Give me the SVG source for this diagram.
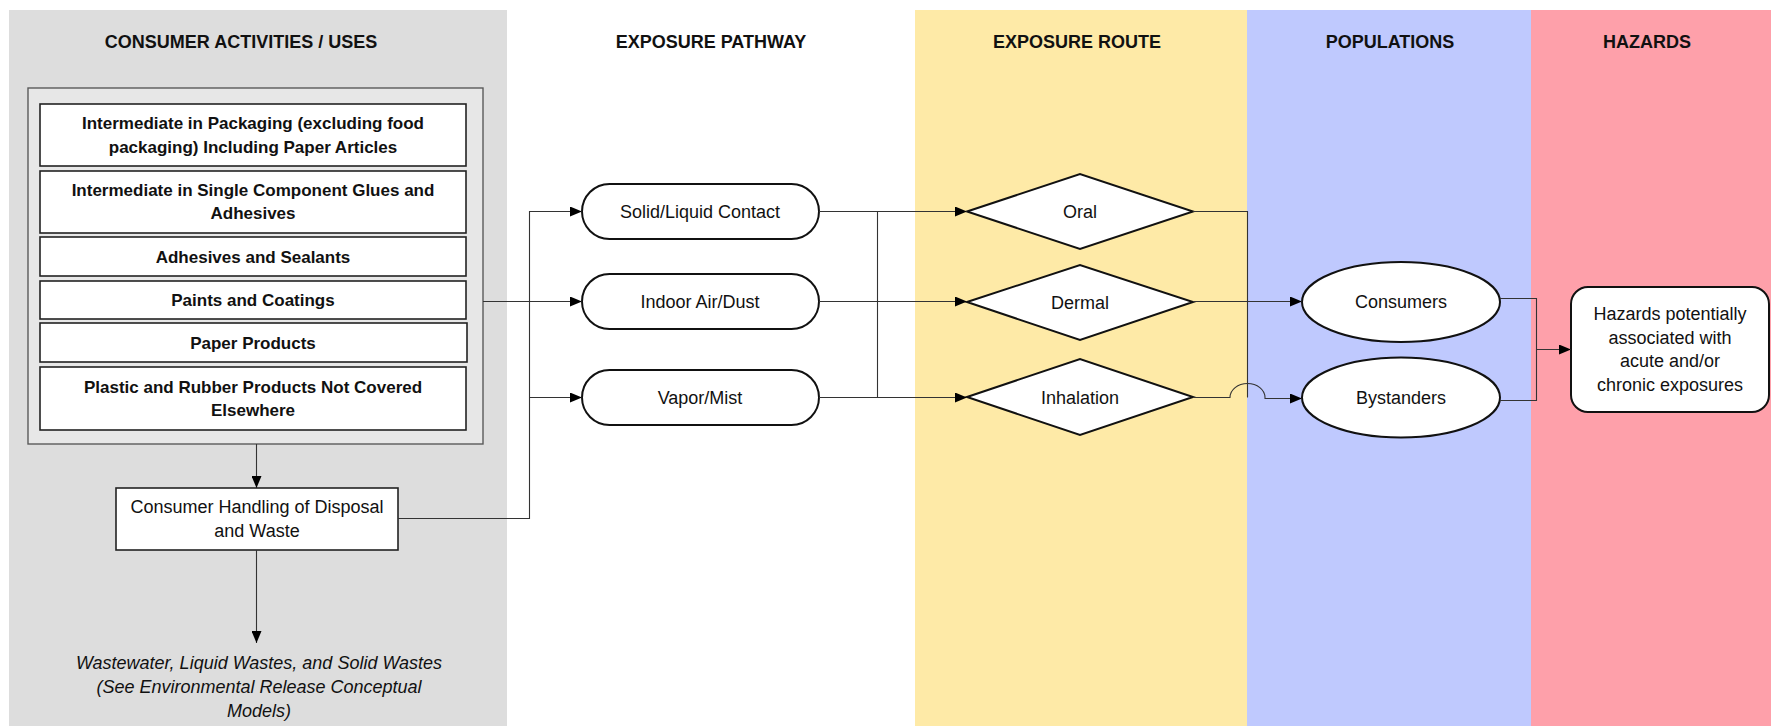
<svg xmlns="http://www.w3.org/2000/svg" width="1771" height="726" viewBox="0 0 1771 726">
  <style>
    text { font-family: "Liberation Sans", Arial, sans-serif; fill: #111; text-anchor: middle; }
    .title { font-size: 18px; font-weight: bold; }
    .use { font-size: 17px; font-weight: bold; }
    .lbl { font-size: 18px; }
    .note { font-size: 18px; font-style: italic; }
    .box { fill: #fff; stroke: #222; stroke-width: 1.6; }
    .shape { fill: #fff; stroke: #111; stroke-width: 2; }
    .conn { fill: none; stroke: #333; stroke-width: 1.1; }
  </style>
  <defs>
    <marker id="arrow" markerUnits="userSpaceOnUse" markerWidth="12" markerHeight="10" refX="12" refY="5" orient="auto">
      <path d="M0,0 L12,5 L0,10 Z" fill="#000"/>
    </marker>
  </defs>

  <!-- column bands -->
  <rect width="1771" height="726" fill="#fff"/>
  <rect x="9" y="10" width="498" height="716" fill="#dddddd"/>
  <rect x="915" y="10" width="332" height="716" fill="#feeaa7"/>
  <rect x="1247" y="10" width="284" height="716" fill="#bfc9fe"/>
  <rect x="1531" y="10" width="240" height="716" fill="#fea0aa"/>

  <!-- column headings -->
  <g id="headings">
    <text class="title" x="241" y="48">CONSUMER ACTIVITIES / USES</text>
    <text class="title" x="711" y="48">EXPOSURE PATHWAY</text>
    <text class="title" x="1077" y="48">EXPOSURE ROUTE</text>
    <text class="title" x="1390" y="48">POPULATIONS</text>
    <text class="title" x="1647" y="48">HAZARDS</text>
  </g>

  <!-- consumer uses -->
  <g id="consumer-uses">
    <rect x="28" y="88" width="455" height="356" fill="#e7e7e7" stroke="#5a5a5a" stroke-width="1.4"/>
    <g id="use-packaging">
      <rect class="box" x="40" y="104" width="426" height="62"/>
      <text class="use" x="253" y="129">Intermediate in Packaging (excluding food</text>
      <text class="use" x="253" y="153">packaging) Including Paper Articles</text>
    </g>
    <g id="use-glues">
      <rect class="box" x="40" y="171" width="426" height="62"/>
      <text class="use" x="253" y="196">Intermediate in Single Component Glues and</text>
      <text class="use" x="253" y="219">Adhesives</text>
    </g>
    <g id="use-adhesives">
      <rect class="box" x="40" y="237" width="426" height="39"/>
      <text class="use" x="253" y="263">Adhesives and Sealants</text>
    </g>
    <g id="use-paints">
      <rect class="box" x="40" y="281" width="426" height="38"/>
      <text class="use" x="253" y="306">Paints and Coatings</text>
    </g>
    <g id="use-paper">
      <rect class="box" x="40" y="323" width="427" height="39"/>
      <text class="use" x="253" y="349">Paper Products</text>
    </g>
    <g id="use-plastic">
      <rect class="box" x="40" y="367" width="426" height="63"/>
      <text class="use" x="253" y="393">Plastic and Rubber Products Not Covered</text>
      <text class="use" x="253" y="416">Elsewhere</text>
    </g>
  </g>

  <g id="disposal">
    <rect class="box" x="116" y="488" width="282" height="62"/>
    <text class="lbl" x="257" y="513">Consumer Handling of Disposal</text>
    <text class="lbl" x="257" y="537">and Waste</text>
  </g>

  <g id="wastes">
    <text class="note" x="259" y="669">Wastewater, Liquid Wastes, and Solid Wastes</text>
    <text class="note" x="259" y="693">(See Environmental Release Conceptual</text>
    <text class="note" x="259" y="717">Models)</text>
  </g>

  <!-- exposure pathways -->
  <g id="pathway-contact">
    <rect class="shape" x="582" y="184" width="237" height="55" rx="27.5" stroke-width="1.6"/>
    <text class="lbl" x="700" y="218">Solid/Liquid Contact</text>
  </g>
  <g id="pathway-air">
    <rect class="shape" x="582" y="274" width="237" height="55" rx="27.5" stroke-width="1.6"/>
    <text class="lbl" x="700" y="308">Indoor Air/Dust</text>
  </g>
  <g id="pathway-vapor">
    <rect class="shape" x="582" y="370" width="237" height="55" rx="27.5" stroke-width="1.6"/>
    <text class="lbl" x="700" y="404">Vapor/Mist</text>
  </g>

  <!-- exposure routes -->
  <g id="route-oral">
    <polygon class="shape" points="967,211.5 1080,174 1193,211.5 1080,249"/>
    <text class="lbl" x="1080" y="218">Oral</text>
  </g>
  <g id="route-dermal">
    <polygon class="shape" points="967,302 1080,265 1193,302 1080,340"/>
    <text class="lbl" x="1080" y="309">Dermal</text>
  </g>
  <g id="route-inhalation">
    <polygon class="shape" points="967,397 1080,359 1193,397 1080,435"/>
    <text class="lbl" x="1080" y="404">Inhalation</text>
  </g>

  <!-- populations -->
  <g id="pop-consumers">
    <ellipse class="shape" cx="1401" cy="302" rx="99" ry="40"/>
    <text class="lbl" x="1401" y="308">Consumers</text>
  </g>
  <g id="pop-bystanders">
    <ellipse class="shape" cx="1401" cy="397.5" rx="99" ry="40"/>
    <text class="lbl" x="1401" y="404">Bystanders</text>
  </g>

  <!-- hazards -->
  <g id="hazard">
    <rect class="shape" x="1571" y="287" width="198" height="125" rx="17"/>
    <text class="lbl" x="1670" y="320">Hazards potentially</text>
    <text class="lbl" x="1670" y="344">associated with</text>
    <text class="lbl" x="1670" y="367">acute and/or</text>
    <text class="lbl" x="1670" y="391">chronic exposures</text>
  </g>

  <!-- connectors -->
  <g id="connectors">
    <path class="conn" d="M256.5,444 V488" marker-end="url(#arrow)"/>
    <path class="conn" d="M256.5,550 V643" marker-end="url(#arrow)"/>
    <path class="conn" d="M483,301.5 H582" marker-end="url(#arrow)"/>
    <path class="conn" d="M398,518.5 H529.5 V211.5 H582" marker-end="url(#arrow)"/>
    <path class="conn" d="M529.5,397.5 H582" marker-end="url(#arrow)"/>

    <path class="conn" d="M819,211.5 H967" marker-end="url(#arrow)"/>
    <path class="conn" d="M819,301.5 H967" marker-end="url(#arrow)"/>
    <path class="conn" d="M819,397.5 H967" marker-end="url(#arrow)"/>
    <path class="conn" d="M877.5,211.5 V397.5"/>

    <path class="conn" d="M1193,211.5 H1247.5 V397.5"/>
    <path class="conn" d="M1193,301.5 H1302" marker-end="url(#arrow)"/>
    <path class="conn" d="M1193,397.5 H1230 A17.5,14 0 0 1 1265,397.5 V398.5 H1302" marker-end="url(#arrow)"/>

    <path class="conn" d="M1500,298.5 H1536.5 V400.5 H1500"/>
    <path class="conn" d="M1536.5,349.5 H1571" marker-end="url(#arrow)"/>
  </g>
</svg>
